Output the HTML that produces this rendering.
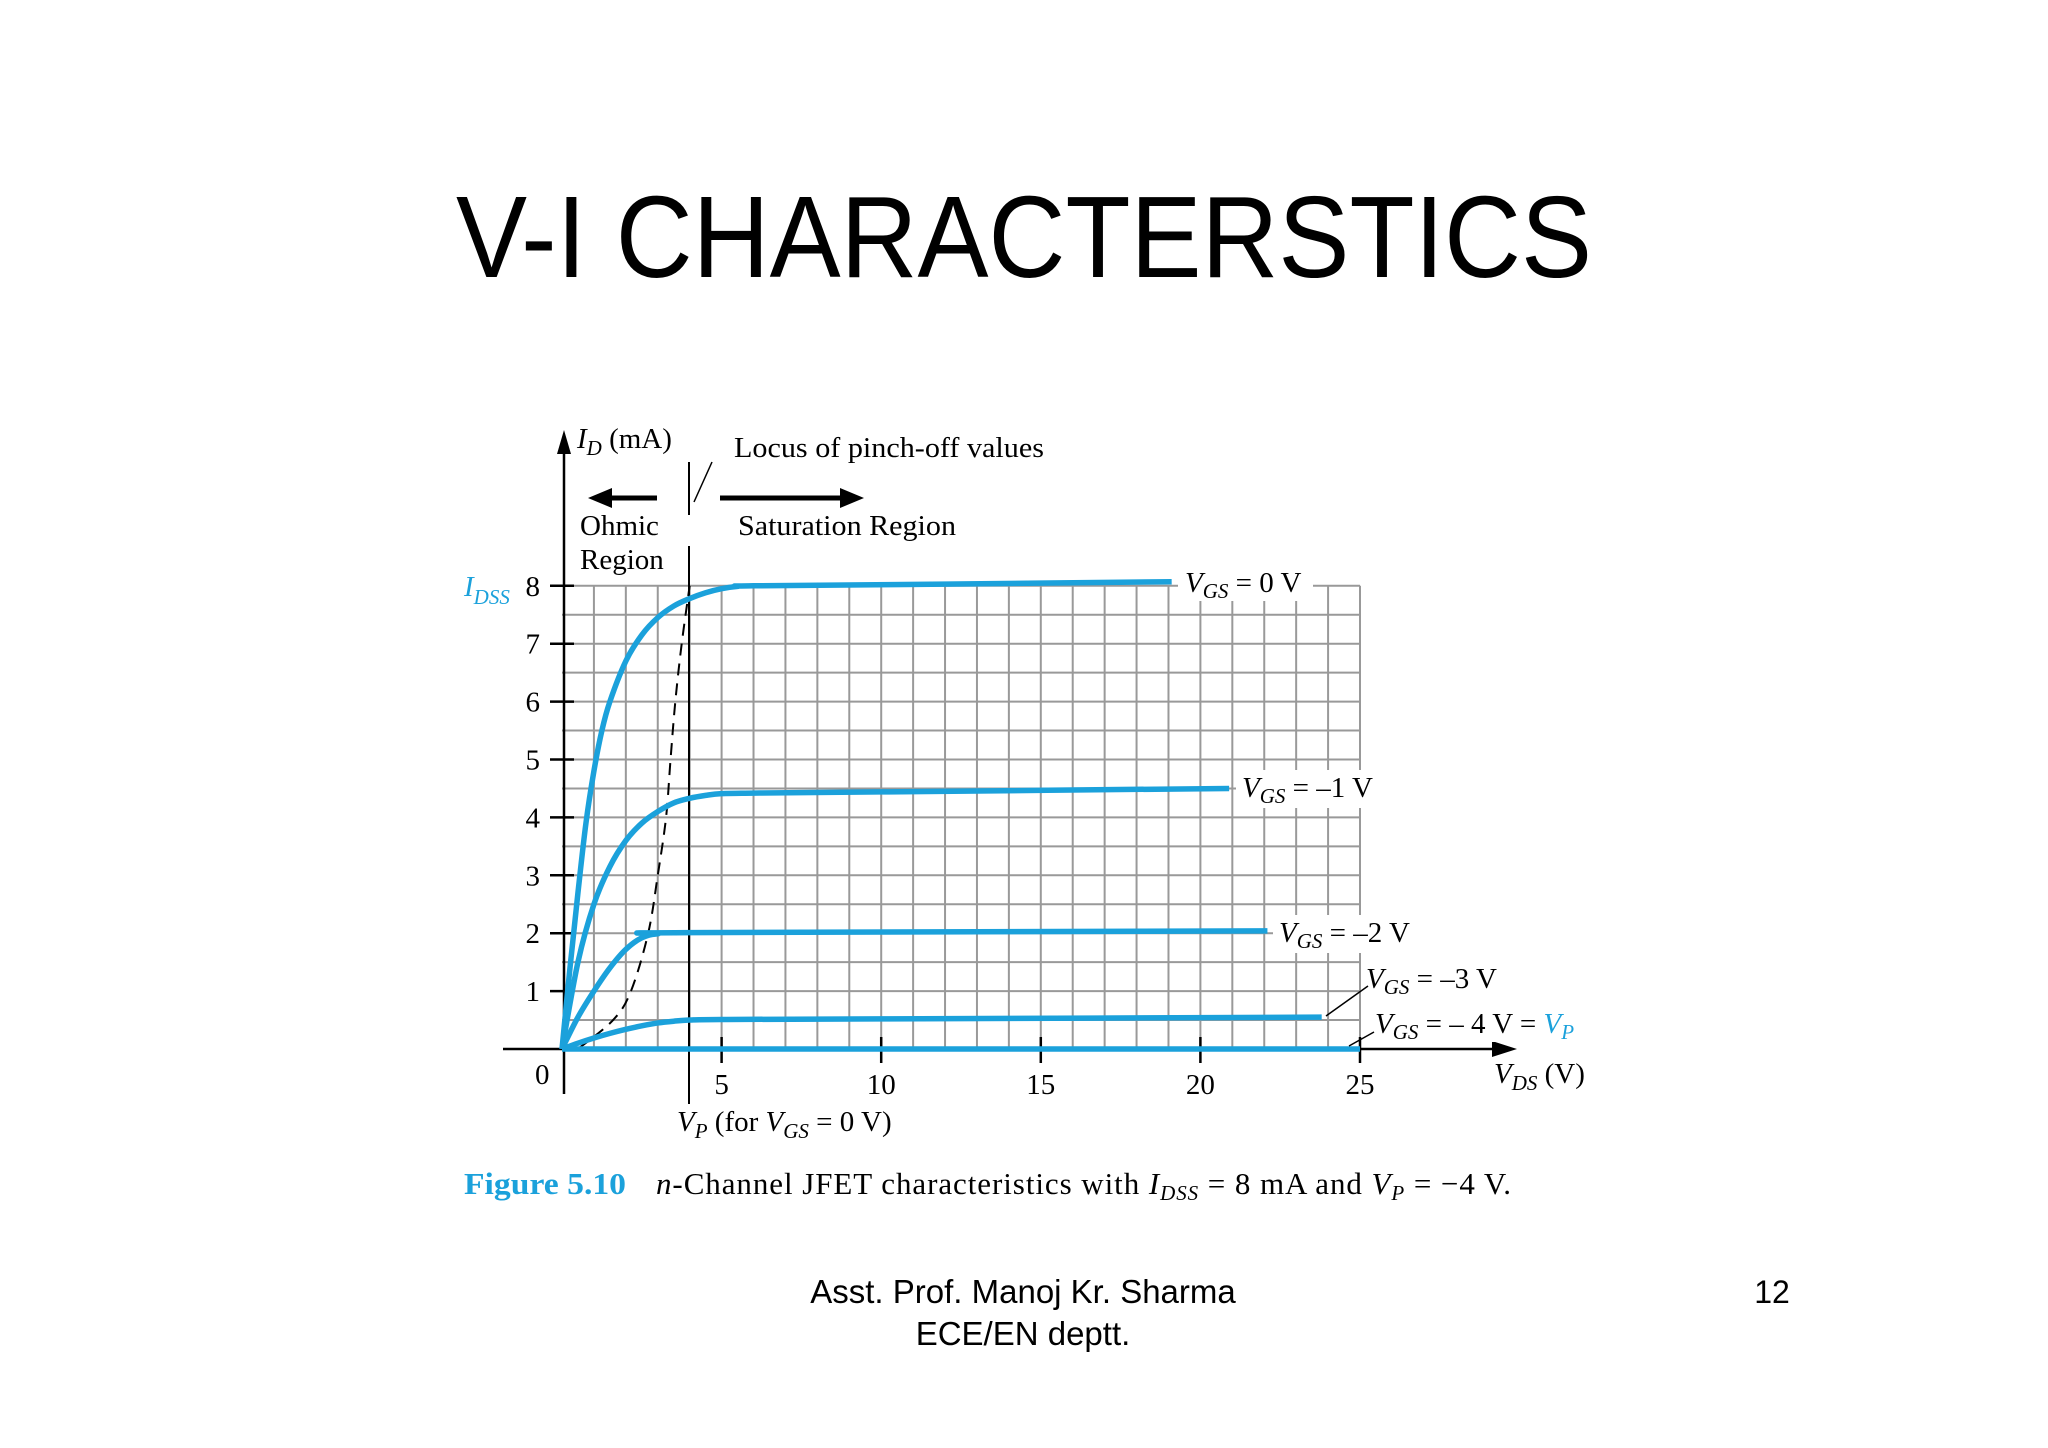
<!DOCTYPE html>
<html><head><meta charset="utf-8"><style>
html,body{margin:0;padding:0;background:#fff;}
svg{display:block;}
.serif{font-family:"Liberation Serif",serif;}
.sans{font-family:"Liberation Sans",sans-serif;}
</style></head><body>
<svg id="s" width="2048" height="1448" viewBox="0 0 2048 1448">
<text x="456" y="277" textLength="1136" lengthAdjust="spacingAndGlyphs" class="sans" font-size="116" fill="#000">V-I CHARACTERSTICS</text>
<g id="grid"></g>
<g id="axes"></g>
<g id="series"></g>
<g id="labels" class="serif"></g>
<text x="1023" y="1303" text-anchor="middle" class="sans" font-size="33">Asst. Prof. Manoj Kr. Sharma</text>
<text x="1023" y="1345" text-anchor="middle" class="sans" font-size="33">ECE/EN  deptt.</text>
<text x="1772" y="1303" text-anchor="middle" class="sans" font-size="32">12</text>
</svg>
<script>
const xTicks=[5,10,15,20,25];
const yTicks=[1,2,3,4,5,6,7,8];
const vgs0X=[0,0.25,0.5,0.75,1,1.25,1.5,2,2.5,3,3.5,4,4.5,5,5.5,6,12,19.1];
const vgs0Y=[0,1.4,2.7,3.9,4.8,5.5,6.0,6.7,7.15,7.45,7.65,7.78,7.88,7.95,7.99,8.0,8.03,8.07];
const vgs1X=[0,0.5,1,1.5,2,2.5,3,3.5,4,4.5,5,6,10,20.9];
const vgs1Y=[0,1.5,2.5,3.15,3.6,3.9,4.1,4.25,4.33,4.38,4.41,4.42,4.44,4.5];
const vgs2X=[0,0.5,1,1.5,2,2.5,3,4,22.1];
const vgs2Y=[0,0.55,1.0,1.4,1.72,1.92,1.99,2.01,2.04];
const vgs3X=[0,0.5,1,1.5,2,2.5,3,3.5,4,5,10,23.8];
const vgs3Y=[0,0.1,0.19,0.27,0.34,0.40,0.45,0.48,0.5,0.51,0.52,0.55];
const vgs4X=[0,25];
const vgs4Y=[0,0];
const locusX=[0.5,1.6,2.16,2.7,3.0,3.26,3.4,3.55,3.75,4.0];
const locusY=[0,0.5,1,2,3,4,5,6,7,8];
const X0=562,Y0=1049,PX=31.92,PY=57.9;
const sx=v=>X0+v*PX, sy=v=>Y0-v*PY;
const NS='http://www.w3.org/2000/svg';
function mk(tag,attrs,parent){const e=document.createElementNS(NS,tag);for(const k in attrs)e.setAttribute(k,attrs[k]);parent.appendChild(e);return e;}
const grid=document.getElementById('grid'),axes=document.getElementById('axes'),ser=document.getElementById('series');
for(let i=1;i<=25;i++){const l=mk('line',{x1:sx(i),x2:sx(i),y1:sy(0),y2:sy(8),stroke:'#999','stroke-width':2},grid);

}
for(let j=1;j<=16;j++){const l=mk('line',{x1:sx(0),x2:sx(25),y1:sy(j*0.5),y2:sy(j*0.5),stroke:'#999','stroke-width':2},grid);

}
mk('line',{x1:503,x2:1500,y1:Y0,y2:Y0,stroke:'#000','stroke-width':2.5},axes);
mk('polygon',{points:'1517,1049 1492,1041 1492,1057',fill:'#000'},axes);
mk('line',{x1:564,x2:564,y1:440,y2:1094,stroke:'#000','stroke-width':2.5},axes);
mk('polygon',{points:'564,430 557,454 571,454',fill:'#000'},axes);
xTicks.forEach(t=>{mk('line',{x1:sx(t),x2:sx(t),y1:Y0-12,y2:Y0+14,stroke:'#000','stroke-width':2.5},axes);
const tx=mk('text',{x:sx(t),y:1094,'text-anchor':'middle','font-size':29,class:'serif'},axes);tx.textContent=t;

});
yTicks.forEach(t=>{mk('line',{x1:550,x2:574,y1:sy(t),y2:sy(t),stroke:'#000','stroke-width':2.5},axes);
const tx=mk('text',{x:540,y:sy(t)+10,'text-anchor':'end','font-size':29,class:'serif'},axes);tx.textContent=t;

});
mk('line',{x1:689,x2:689,y1:462,y2:515,stroke:'#000','stroke-width':2},axes);
mk('line',{x1:689,x2:689,y1:546,y2:1104,stroke:'#000','stroke-width':2},axes);
function smooth(xs,ys){const p=xs.map((x,i)=>[sx(x),sy(ys[i])]);let d='M'+p[0][0]+','+p[0][1];
for(let i=0;i<p.length-1;i++){const p0=p[Math.max(0,i-1)],p1=p[i],p2=p[i+1],p3=p[Math.min(p.length-1,i+2)];
const t=6;d+=' C'+(p1[0]+(p2[0]-p0[0])/t)+','+(p1[1]+(p2[1]-p0[1])/t)+' '+(p2[0]-(p3[0]-p1[0])/t)+','+(p2[1]-(p3[1]-p1[1])/t)+' '+p2[0]+','+p2[1];}return d;}
const L=mk('path',{d:smooth(locusX,locusY),fill:'none',stroke:'#000','stroke-width':2,'stroke-dasharray':'12,8'},ser);


[[vgs0X,vgs0Y,'curve-vgs-0'],[vgs1X,vgs1Y,'curve-vgs-minus-1'],[vgs2X,vgs2Y,'curve-vgs-minus-2'],[vgs3X,vgs3Y,'curve-vgs-minus-3'],[vgs4X,vgs4Y,'curve-vgs-minus-4']].forEach(s=>{
const p=mk('path',{d:smooth(s[0],s[1]),fill:'none',stroke:'#1ba1db','stroke-width':5.5,'stroke-linejoin':'round'},ser);

});
</script>
<script>
(function(){
const lab=document.getElementById('labels');
lab.innerHTML=`
<rect x="1178" y="565" width="135" height="36" fill="#fff"/>
<text x="1185" y="592" font-size="29"><tspan font-style="italic">V<tspan font-size="21" dy="6">GS</tspan></tspan><tspan dy="-6"> = 0 V</tspan></text>
<rect x="1236" y="770" width="140" height="38" fill="#fff"/>
<text x="1242" y="797" font-size="29"><tspan font-style="italic">V<tspan font-size="21" dy="6">GS</tspan></tspan><tspan dy="-6"> = –1 V</tspan></text>
<rect x="1273" y="915" width="140" height="38" fill="#fff"/>
<text x="1279" y="942" font-size="29"><tspan font-style="italic">V<tspan font-size="21" dy="6">GS</tspan></tspan><tspan dy="-6"> = –2 V</tspan></text>
<rect x="1362" y="962" width="140" height="36" fill="#fff"/>
<text x="1366" y="988" font-size="29"><tspan font-style="italic">V<tspan font-size="21" dy="6">GS</tspan></tspan><tspan dy="-6"> = –3 V</tspan></text>
<line x1="1368" y1="986" x2="1326" y2="1016" stroke="#000" stroke-width="1.5"/>
<rect x="1370" y="1008" width="200" height="34" fill="#fff"/>
<text x="1375" y="1033" font-size="29"><tspan font-style="italic">V<tspan font-size="21" dy="6">GS</tspan></tspan><tspan dy="-6"> = – 4 V = </tspan><tspan font-style="italic" fill="#1ba1db">V<tspan font-size="21" dy="6">P</tspan></tspan></text>
<line x1="1374" y1="1032" x2="1349" y2="1046" stroke="#000" stroke-width="1.5"/>
<text x="577" y="448" font-size="29"><tspan font-style="italic">I<tspan font-size="21" dy="7">D</tspan></tspan><tspan dy="-7"> (mA)</tspan></text>
<text x="1494" y="1083" font-size="29"><tspan font-style="italic">V<tspan font-size="21" dy="7">DS</tspan></tspan><tspan dy="-7"> (V)</tspan></text>
<text x="464" y="596" font-size="29" fill="#1ba1db" font-style="italic">I<tspan font-size="21" dy="8">DSS</tspan></text>
<text x="535" y="1084" font-size="29">0</text>
<text x="734" y="457" font-size="29" textLength="310" lengthAdjust="spacingAndGlyphs">Locus of pinch-off values</text>
<line x1="712" y1="462" x2="694" y2="502" stroke="#000" stroke-width="1.5"/>
<line x1="657" y1="498" x2="605" y2="498" stroke="#000" stroke-width="5"/>
<polygon points="588,498 612,488 612,508" fill="#000"/>
<line x1="720" y1="498" x2="845" y2="498" stroke="#000" stroke-width="5"/>
<polygon points="864,498 840,488 840,508" fill="#000"/>
<text x="580" y="535" font-size="29">Ohmic</text>
<text x="580" y="569" font-size="29">Region</text>
<text x="738" y="535" font-size="29" textLength="218" lengthAdjust="spacingAndGlyphs">Saturation Region</text>
<text x="677" y="1131" font-size="29"><tspan font-style="italic">V<tspan font-size="21" dy="7">P</tspan></tspan><tspan dy="-7"> (for </tspan><tspan font-style="italic">V<tspan font-size="21" dy="7">GS</tspan></tspan><tspan dy="-7"> = 0 V)</tspan></text>
<text x="464" y="1194" font-size="31" font-weight="bold" fill="#1ba1db" textLength="162" lengthAdjust="spacingAndGlyphs">Figure 5.10</text>
<text x="656" y="1194" font-size="31" textLength="855" lengthAdjust="spacing"><tspan font-style="italic">n</tspan>-Channel JFET characteristics with <tspan font-style="italic">I<tspan font-size="21" dy="6">DSS</tspan></tspan><tspan dy="-6"> = 8 mA and </tspan><tspan font-style="italic">V<tspan font-size="21" dy="6">P</tspan></tspan><tspan dy="-6"> = −4 V.</tspan></text>
`;
})();
</script>
</body></html>
